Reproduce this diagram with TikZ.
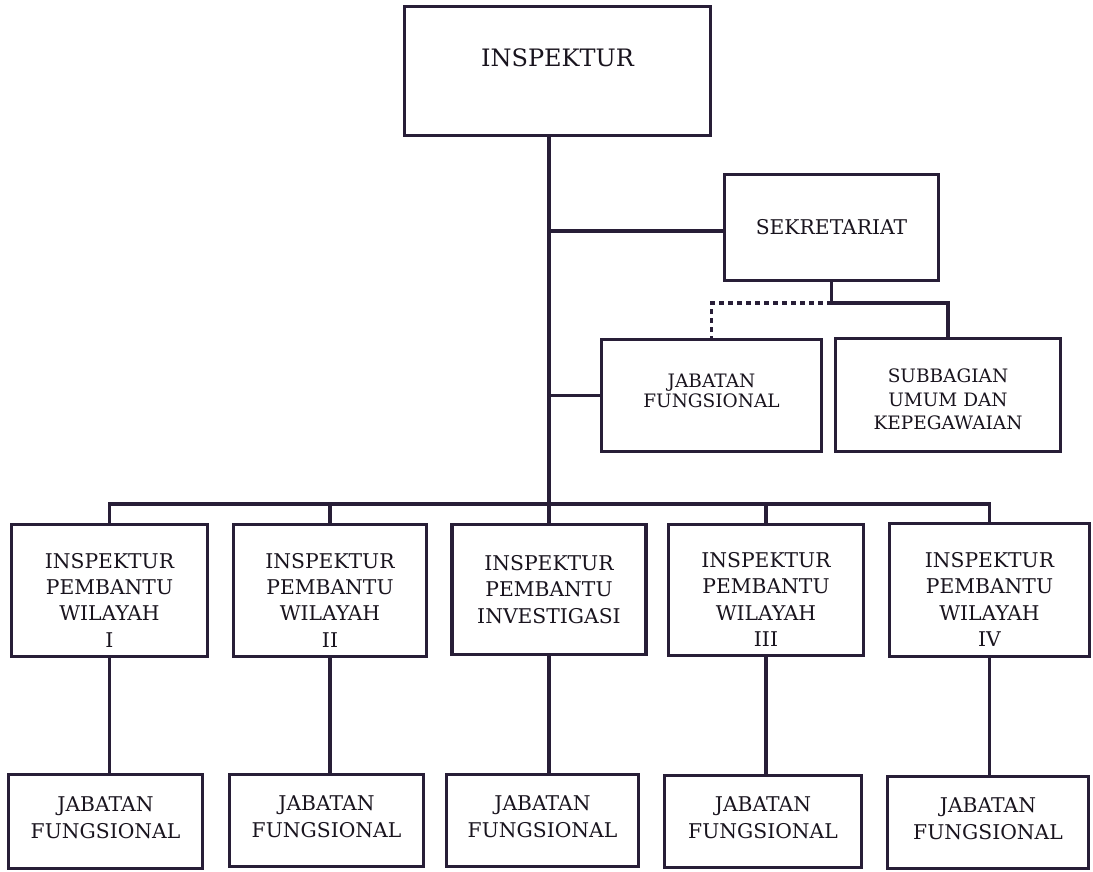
\documentclass[tikz,border=0pt]{standalone}
\usepackage{fontspec}
\setmainfont{DejaVu Serif}
\usetikzlibrary{calc}
\definecolor{ink}{RGB}{40,30,55}
\definecolor{txt}{RGB}{25,20,30}
\begin{document}
\begin{tikzpicture}[x=1pt,y=-1pt,
  box/.style={draw=ink, line width=3.3pt, rectangle, inner sep=0pt, align=center, text=txt},
  conn/.style={draw=ink, line width=3.3pt},
  dotconn/.style={draw=ink, line width=3.3pt, dash pattern=on 4.5pt off 4.5pt},
  ibox/.style={box, font=\fontsize{20.3}{26.3}\selectfont, text height=113pt, text depth=0pt},
  jbox/.style={box, font=\fontsize{20.3}{26.3}\selectfont, text height=33pt, text depth=0pt}]
\useasboundingbox (0,0) rectangle (1093,872);

\node[box, font=\fontsize{24}{28}\selectfont, minimum width=306pt, minimum height=129pt,
      text height=17.5pt, text depth=25.5pt] (top) at (557.5,71) {INSPEKTUR};
\node[box, font=\fontsize{20.3}{25}\selectfont, minimum width=214pt, minimum height=106pt]
      (sekr) at (831.5,227.5) {SEKRETARIAT};
\node[box, font=\fontsize{18.5}{20}\selectfont, minimum width=220pt, minimum height=112pt,
      text height=33.5pt, text depth=10.5pt] (jf0) at (711.5,395.5) {JABATAN\\FUNGSIONAL};
\node[box, font=\fontsize{18.5}{23.5}\selectfont, minimum width=225pt, minimum height=113pt,
      text height=69pt, text depth=0pt] (sub) at (948,395) {SUBBAGIAN\\UMUM DAN\\KEPEGAWAIAN};

\node[ibox, minimum width=196pt, minimum height=132pt] (i1) at (109.5,590.5) {INSPEKTUR\\PEMBANTU\\WILAYAH\\I};
\node[ibox, minimum width=193pt, minimum height=132pt] (i2) at (330,590.5) {INSPEKTUR\\PEMBANTU\\WILAYAH\\II};
\node[ibox, text height=67pt, minimum width=194pt, minimum height=130pt] (i3) at (549,589.5) {INSPEKTUR\\PEMBANTU\\INVESTIGASI};
\node[ibox, minimum width=195pt, minimum height=131pt] (i4) at (766,590) {INSPEKTUR\\PEMBANTU\\WILAYAH\\III};
\node[ibox, minimum width=200pt, minimum height=133pt] (i5) at (989.5,590) {INSPEKTUR\\PEMBANTU\\WILAYAH\\IV};

\node[jbox, minimum width=194pt, minimum height=94pt] (j1) at (105.5,821.5) {JABATAN\\FUNGSIONAL};
\node[jbox, minimum width=194pt, minimum height=92pt] (j2) at (326.5,820.5) {JABATAN\\FUNGSIONAL};
\node[jbox, minimum width=192pt, minimum height=92pt] (j3) at (542.5,820.5) {JABATAN\\FUNGSIONAL};
\node[jbox, minimum width=197pt, minimum height=92pt] (j4) at (763,821.5) {JABATAN\\FUNGSIONAL};
\node[jbox, minimum width=201pt, minimum height=92pt] (j5) at (988,822.5) {JABATAN\\FUNGSIONAL};

\coordinate (bus) at (549,504);
\coordinate (sj) at (831.5,303);

% trunk
\draw[conn] (top.south -| bus) -- (i3.north);
% sekretariat branch
\draw[conn] ([yshift=-3.5pt]sekr.west) -- ([yshift=-3.5pt]sekr.west -| bus);
\draw[conn] (jf0.west) -- (jf0.west -| bus);
\draw[conn] (sekr.south) -- (sj) -| (sub.north);
\draw[dotconn] (sj) -| (jf0.north);
% bus
\draw[conn] (i1.north) |- (bus) -| (i5.north);
\draw[conn] (i2.north) -- (i2.north |- bus);
\draw[conn] (i4.north) -- (i4.north |- bus);
% lower drops
\draw[conn] (i1.south) -- (i1.south |- j1.north);
\draw[conn] (i2.south) -- (i2.south |- j2.north);
\draw[conn] (i3.south) -- (i3.south |- j3.north);
\draw[conn] (i4.south) -- (i4.south |- j4.north);
\draw[conn] (i5.south) -- (i5.south |- j5.north);
\end{tikzpicture}
\end{document}
